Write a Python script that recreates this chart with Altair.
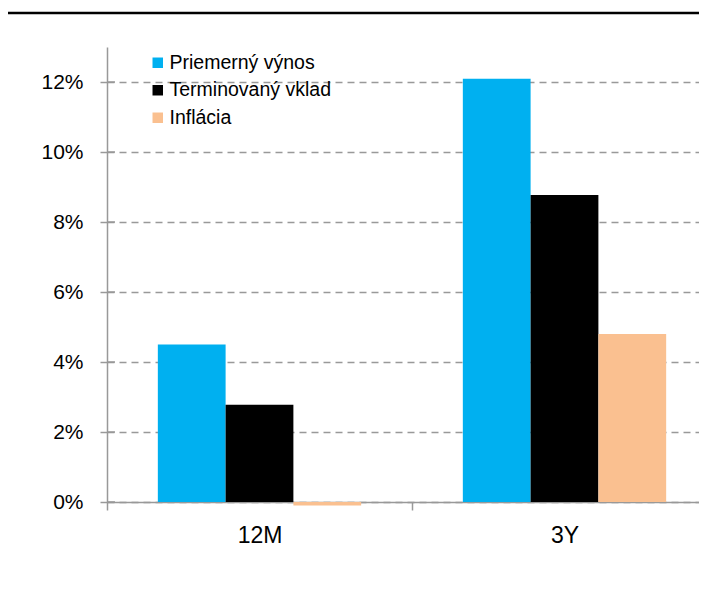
import altair as alt
import pandas as pd

categories = ["12M", "3Y"]
series = ["Priemerný výnos", "Terminovaný vklad", "Inflácia"]
colors = ["#00B0F0", "#000000", "#FAC090"]
priemerny = [0.045, 0.1209]
terminovany = [0.0278, 0.0877]
inflacia = [-0.001, 0.048]
y_ticks = [0.0, 0.02, 0.04, 0.06, 0.08, 0.10, 0.12]

rows = []
for s, vals in zip(series, [priemerny, terminovany, inflacia]):
    for c, v in zip(categories, vals):
        rows.append({"period": c, "series": s, "value": v})
df = pd.DataFrame(rows)

W = 592

bars = alt.Chart(df).mark_bar().encode(
    x=alt.X(
        "period:N",
        sort=categories,
        scale=alt.Scale(paddingInner=0, paddingOuter=0, range=[0, 610]),
        axis=alt.Axis(
            title=None, labelAngle=0, tickBand="extent", grid=False,
            domainColor="#999999", domainWidth=1.5, tickColor="#999999",
            tickWidth=1.5, tickSize=8, labelPadding=14, labelFontSize=23,
            labelColor="#000000",
        ),
    ),
    xOffset=alt.XOffset("series:N", sort=series,
                        scale=alt.Scale(paddingInner=0, paddingOuter=0.75)),
    y=alt.Y(
        "value:Q",
        scale=alt.Scale(domain=[0, 0.13], nice=False, zero=True),
        axis=alt.Axis(
            title=None, format=".0%", values=y_ticks, grid=True,
            gridDash=[7, 5], gridColor="#999999", gridWidth=1.5,
            domainColor="#999999", domainWidth=1.5, tickColor="#999999",
            tickWidth=1.5, tickSize=7, labelPadding=17, labelFontSize=21,
            labelColor="#000000",
        ),
    ),
    color=alt.Color(
        "series:N",
        sort=series,
        scale=alt.Scale(domain=series, range=colors),
        legend=alt.Legend(
            title=None, orient="none", legendX=41, legendY=6, padding=0,
            symbolType="square", symbolSize=110, symbolStrokeWidth=0,
            labelFontSize=19.5, labelColor="#000000", rowPadding=6.5,
            labelOffset=2, labelLimit=400,
        ),
    ),
)

inner_ticks = alt.Chart(pd.DataFrame({"t": y_ticks})).mark_rule(
    color="#999999", strokeWidth=1.5
).encode(x=alt.value(0), x2=alt.value(8), y="t:Q")

top_line = alt.Chart(pd.DataFrame({"a": [0]})).mark_rule(
    color="#000000", strokeWidth=2.5
).encode(x=alt.value(-105), x2=alt.value(W), y=alt.value(-34))

chart = alt.layer(bars, inner_ticks, top_line).properties(
    width=W, height=455,
    padding={"left": 99, "top": 39, "right": 0, "bottom": 60},
    autosize="none",
).configure(font="Liberation Sans").configure_view(stroke=None)

chart.save("out.html", embed_options={"renderer": "svg", "actions": False})
